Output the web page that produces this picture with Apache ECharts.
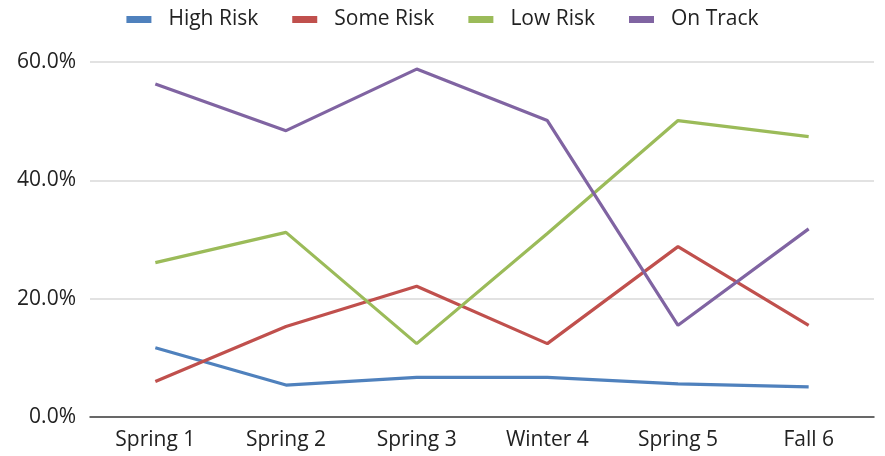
<!DOCTYPE html>
<html>
<head>
<meta charset="utf-8">
<script src="https://cdn.jsdelivr.net/npm/echarts@6/dist/echarts.min.js"></script>
<style>html,body{margin:0;padding:0;background:#fff}#c{width:885px;height:456px}</style>
</head>
<body>
<div id="c"></div>
<script>
const categories = ['Spring 1', 'Spring 2', 'Spring 3', 'Winter 4', 'Spring 5', 'Fall 6'];
const highRisk = [11.7, 5.4, 6.7, 6.7, 5.6, 5.1];
const someRisk = [6.0, 15.3, 22.1, 12.4, 28.8, 15.5];
const lowRisk = [26.1, 31.2, 12.4, 31.0, 50.1, 47.4];
const onTrack = [56.3, 48.4, 58.8, 50.1, 15.5, 31.8];
const seriesNames = ['High Risk', 'Some Risk', 'Low Risk', 'On Track'];
const yTicks = { min: 0, max: 60, interval: 20 };

const colors = ['#4F81BD', '#C0504D', '#9BBB59', '#8064A2'];
const font = 'Open Sans';
const chart = echarts.init(document.getElementById('c'), null, { renderer: 'canvas' });
const data = [highRisk, someRisk, lowRisk, onTrack];
chart.setOption({
  animation: false,
  color: colors,
  legend: {
    top: 4,
    left: 'center',
    itemWidth: 25,
    itemHeight: 7,
    itemGap: 34,
    icon: 'rect',
    textStyle: { fontFamily: font, fontSize: 21, color: '#222', padding: [0, 0, 0, 12] },
    data: seriesNames
  },
  grid: { left: 90, right: 11, top: 62, bottom: 39 },
  xAxis: {
    type: 'category',
    data: categories,
    boundaryGap: true,
    axisLine: { lineStyle: { color: '#404040', width: 1.5 } },
    axisTick: { show: false },
    axisLabel: { fontFamily: font, fontSize: 21, color: '#222', margin: 13 }
  },
  yAxis: {
    type: 'value',
    min: yTicks.min,
    max: yTicks.max,
    interval: yTicks.interval,
    axisLine: { show: false },
    axisTick: { show: false },
    splitLine: { lineStyle: { color: '#D9D9D9', width: 1.5 } },
    axisLabel: { fontFamily: font, fontSize: 21, color: '#222', margin: 14, formatter: v => v.toFixed(1) + '%' }
  },
  series: seriesNames.map((n, i) => ({
    name: n,
    type: 'line',
    data: data[i],
    symbol: 'none',
    lineStyle: { width: 3.2, color: colors[i] },
    itemStyle: { color: colors[i] }
  }))
});
</script>
</body>
</html>
